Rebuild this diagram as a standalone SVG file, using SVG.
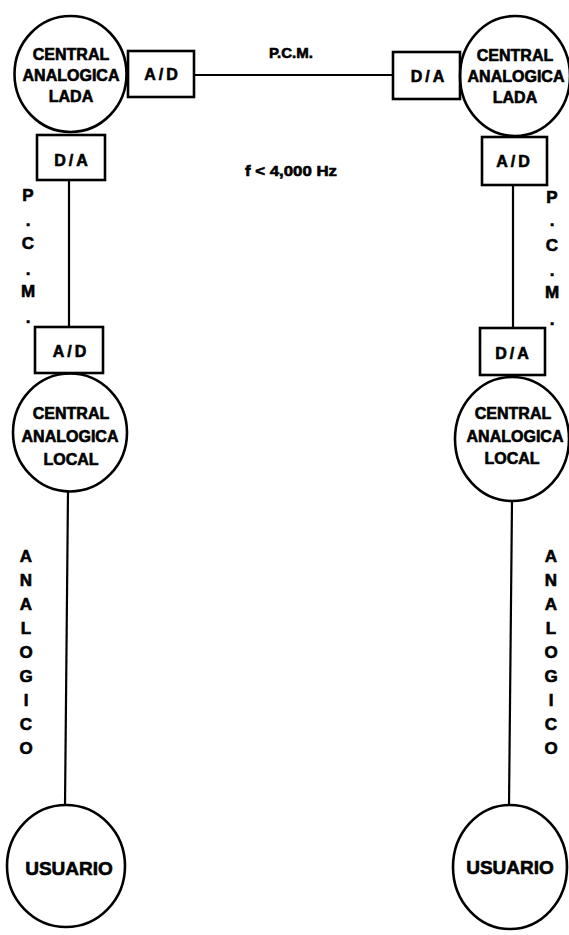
<svg xmlns="http://www.w3.org/2000/svg" width="569" height="935" viewBox="0 0 569 935">
<style>
.shape{fill:none;stroke:#000;stroke-width:2.6}
.box{fill:#fff;stroke:#000;stroke-width:2.6}
.ln{stroke:#000;stroke-width:2.2;fill:none}
text{font-family:"Liberation Sans",Arial,sans-serif;font-weight:bold;fill:#000;stroke:#000;stroke-width:0.6;text-anchor:middle}
.c{font-size:16px}
.b{font-size:16px;letter-spacing:3px}
.u{font-size:19px}
.v{font-size:17px}
.l{font-size:15px}
</style>
<rect width="569" height="935" fill="#fff"/>
<g id="connectors">
<line class="ln" x1="194" y1="75" x2="393" y2="75"/>
<line class="ln" x1="69" y1="180" x2="69" y2="327"/>
<line class="ln" x1="68" y1="491" x2="65" y2="806"/>
<line class="ln" x1="513" y1="185" x2="513" y2="328"/>
<line class="ln" x1="512" y1="501" x2="509" y2="806"/>
</g>
<g id="central-lada-left">
<ellipse class="shape" cx="70.5" cy="74" rx="56" ry="58"/>
<text class="c" x="71" y="60">CENTRAL</text>
<text class="c" x="71" y="81">ANALOGICA</text>
<text class="c" x="71" y="102">LADA</text>
</g>
<g id="ad-top-left">
<rect class="box" x="128" y="51" width="66" height="46"/>
<text class="b" x="162.5" y="80">A/D</text>
</g>
<g id="da-top-right">
<rect class="box" x="393" y="52" width="67" height="47"/>
<text class="b" x="429" y="82">D/A</text>
</g>
<g id="central-lada-right">
<ellipse class="shape" cx="515" cy="76" rx="55" ry="60"/>
<text class="c" x="515" y="61">CENTRAL</text>
<text class="c" x="516" y="82">ANALOGICA</text>
<text class="c" x="515" y="103">LADA</text>
</g>
<g id="da-left">
<rect class="box" x="37" y="135" width="68" height="45"/>
<text class="b" x="72.5" y="166">D/A</text>
</g>
<g id="ad-right">
<rect class="box" x="482" y="137" width="65" height="48"/>
<text class="b" x="514.5" y="167">A/D</text>
</g>
<g id="ad-left-lower">
<rect class="box" x="35" y="327" width="68" height="46"/>
<text class="b" x="71" y="357">A/D</text>
</g>
<g id="da-right-lower">
<rect class="box" x="480" y="328" width="65" height="47"/>
<text class="b" x="513.5" y="359">D/A</text>
</g>
<g id="central-local-left">
<ellipse class="shape" cx="70" cy="432.5" rx="57" ry="59"/>
<text class="c" x="71" y="419">CENTRAL</text>
<text class="c" x="70" y="442">ANALOGICA</text>
<text class="c" x="71" y="465">LOCAL</text>
</g>
<g id="central-local-right">
<ellipse class="shape" cx="512" cy="439" rx="57" ry="62"/>
<text class="c" x="513" y="419">CENTRAL</text>
<text class="c" x="515" y="442">ANALOGICA</text>
<text class="c" x="512" y="464">LOCAL</text>
</g>
<g id="usuario-left">
<ellipse class="shape" cx="66" cy="866" rx="59" ry="61"/>
<text class="u" x="69" y="875">USUARIO</text>
</g>
<g id="usuario-right">
<ellipse class="shape" cx="510" cy="867" rx="57" ry="62"/>
<text class="u" x="510" y="874">USUARIO</text>
</g>
<g id="labels">
<text class="l" x="291" y="58">P.C.M.</text>
<text class="l" x="291" y="176" textLength="92" lengthAdjust="spacingAndGlyphs">f &lt; 4,000 Hz</text>
<g class="v">
<text x="28" y="201">P</text>
<text x="28" y="226">.</text>
<text x="28" y="249">C</text>
<text x="28" y="275">.</text>
<text x="28" y="297">M</text>
<text x="28" y="323">.</text>
<text x="552" y="203">P</text>
<text x="552" y="226">.</text>
<text x="552" y="251">C</text>
<text x="552" y="276">.</text>
<text x="552" y="298">M</text>
<text x="552" y="325">.</text>
</g>
<g class="v">
<text x="26" y="562">A</text>
<text x="26" y="586">N</text>
<text x="26" y="610">A</text>
<text x="26" y="634">L</text>
<text x="26" y="658">O</text>
<text x="26" y="682">G</text>
<text x="26" y="706">I</text>
<text x="26" y="730">C</text>
<text x="26" y="754">O</text>
<text x="551" y="562">A</text>
<text x="551" y="586">N</text>
<text x="551" y="610">A</text>
<text x="551" y="634">L</text>
<text x="551" y="658">O</text>
<text x="551" y="682">G</text>
<text x="551" y="706">I</text>
<text x="551" y="730">C</text>
<text x="551" y="754">O</text>
</g>
</g>
</svg>
